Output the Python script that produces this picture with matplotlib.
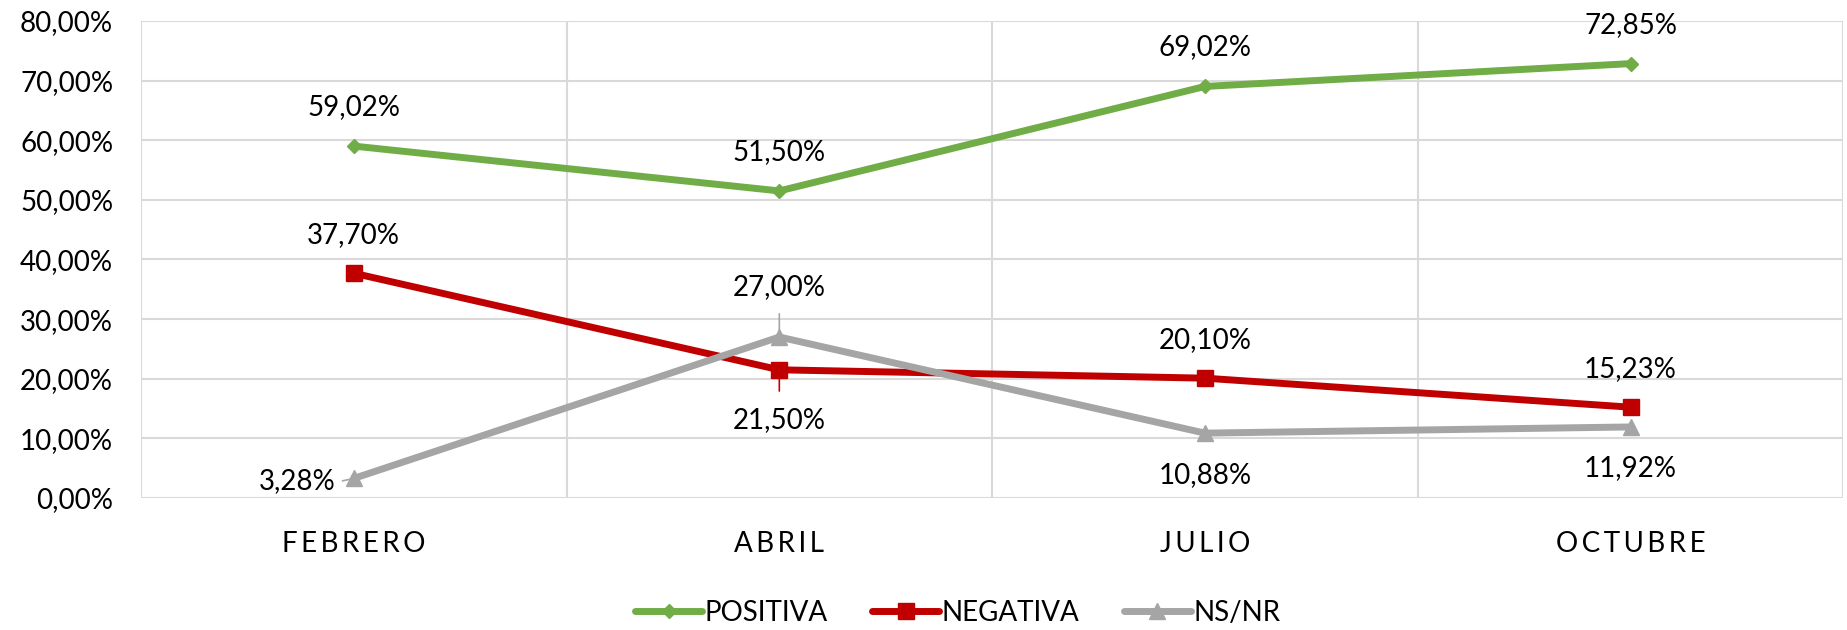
import numpy as np
import matplotlib.pyplot as plt

plt.rcParams['font.family'] = ['Lato', 'DejaVu Sans']

meses = ['FEBRERO', 'ABRIL', 'JULIO', 'OCTUBRE']
positiva = [59.02, 51.50, 69.02, 72.85]
negativa = [37.70, 21.50, 20.10, 15.23]
nsnr = [3.28, 27.00, 10.88, 11.92]

# label offsets in pixels (dx, dy) per point
off_pos = [(0, 39), (0, 39), (0, 39), (0, 39)]
off_neg = [(0, 38), (0, -50), (0, 38), (0, 38)]
off_ns = [(-18, -3), (0, 50), (0, -42), (0, -41)]


def fmt(v):
    return ('%.2f%%' % v).replace('.', ',')


fig = plt.figure(figsize=(18.47, 6.3), dpi=100)
ax = fig.add_axes([0.0763, 0.2095, 0.9217, 0.7572])

x = np.arange(len(meses))
series = [
    (positiva, 'POSITIVA', '#70AD47', 'D', 7, off_pos),
    (negativa, 'NEGATIVA', '#C00000', 's', 11, off_neg),
    (nsnr, 'NS/NR', '#A5A5A5', '^', 12, off_ns),
]
for vals, name, col, mk, ms, offs in series:
    ax.plot(x, vals, color=col, lw=5, marker=mk, markersize=ms,
            label=name, solid_capstyle='round', zorder=3)
    for xi, v, (dx, dy) in zip(x, vals, offs):
        ha = 'right' if dx < 0 else 'center'
        ax.annotate(fmt(v), (xi, v), xytext=(dx, dy), textcoords='offset pixels',
                    ha=ha, va='center', fontsize=20, color='#000000', zorder=5)

# leader lines at ABRIL
ax.annotate('', (1, 27.0), xytext=(0, 26), textcoords='offset pixels',
            arrowprops=dict(arrowstyle='-', color='#A5A5A5', lw=1.2), zorder=2)
ax.annotate('', (1, 21.5), xytext=(0, -24), textcoords='offset pixels',
            arrowprops=dict(arrowstyle='-', color='#C00000', lw=1.2), zorder=2)
# small leader at FEBRERO for 3,28%
ax.annotate('', (0, 3.28), xytext=(-14, -3), textcoords='offset pixels',
            arrowprops=dict(arrowstyle='-', color='#A5A5A5', lw=1.2), zorder=2)

ax.set_xlim(-0.5, 3.5)
ax.set_ylim(0, 80)
ax.set_yticks(np.arange(0, 81, 10))
ax.set_yticklabels([fmt(v) for v in np.arange(0, 81, 10)], fontsize=20)
ax.set_xticks(x)
ax.set_xticklabels(['\u2009'.join(m) for m in meses], fontsize=20)
ax.set_xticks(np.arange(-0.5, 3.6, 1), minor=True)
ax.grid(True, which='major', axis='y', color='#D9D9D9', lw=1.5)
ax.grid(True, which='minor', axis='x', color='#D9D9D9', lw=1.5)
ax.tick_params(axis='both', which='both', length=0)
ax.tick_params(axis='y', pad=20)
ax.tick_params(axis='x', pad=24)
for s in ax.spines.values():
    s.set_visible(False)
ax.set_axisbelow(True)

ax.legend(loc='center', bbox_to_anchor=(0.48, -0.241), ncol=3, frameon=False,
          fontsize=20, handlelength=2.4, columnspacing=1.6, handletextpad=0.1)

fig.savefig('out.png', dpi=100)
